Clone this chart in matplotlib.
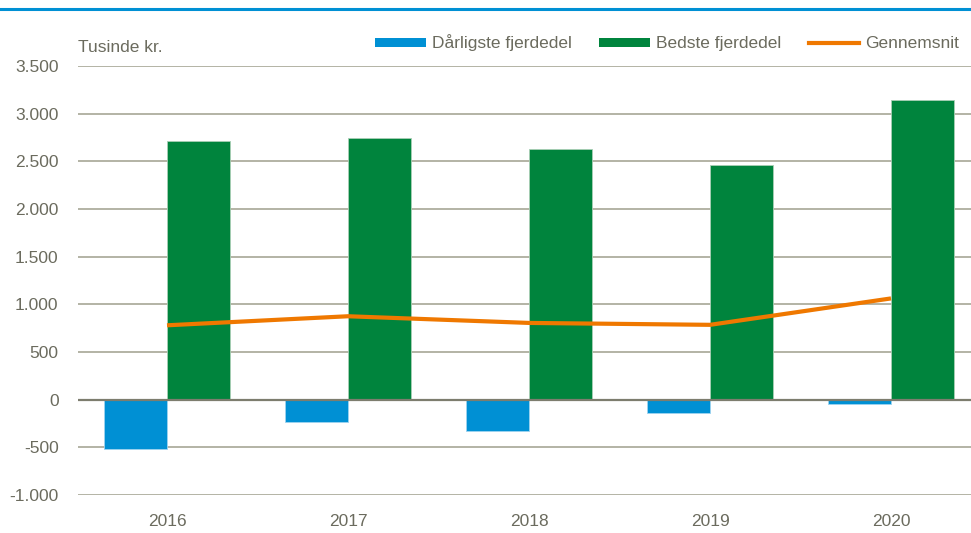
import matplotlib
matplotlib.use("Agg")
import matplotlib.pyplot as plt
from matplotlib.lines import Line2D
from matplotlib.patches import Patch
from matplotlib.ticker import FuncFormatter
import numpy as np

years = ["2016", "2017", "2018", "2019", "2020"]
worst_quarter = [-515, -235, -325, -140, -50]
best_quarter = [2715, 2745, 2630, 2465, 3140]
average = [780, 875, 805, 785, 1062]

blue = "#0090d4"
green = "#00843d"
orange = "#ef7800"
txt = "#6b6b5e"
grid = "#aeae9e"

plt.rcParams["font.family"] = ["Liberation Sans", "DejaVu Sans"]

fig = plt.figure(figsize=(9.71, 5.33), dpi=100)
ax = fig.add_axes([78 / 971, 1 - 495 / 533, (971 - 78) / 971, 429 / 533])

x = np.arange(len(years))
w = 0.35
ax.bar(x - w / 2, worst_quarter, w, color=blue, edgecolor="#9fd3ef", linewidth=0.6, zorder=3)
ax.bar(x + w / 2, best_quarter, w, color=green, edgecolor="#a9cfb5", linewidth=0.6, zorder=3)
ax.plot(x, average, color=orange, lw=3.0, zorder=4, solid_capstyle="butt")

ax.set_ylim(-1000, 3500)
ax.set_xlim(-89 / 181, 4 + 80 / 181)
ax.set_yticks(np.arange(-1000, 3501, 500))
ax.yaxis.set_major_formatter(FuncFormatter(lambda v, p: f"{v:,.0f}".replace(",", ".")))
ax.set_xticks(x)
ax.set_xticklabels(years)
ax.grid(axis="y", color=grid, lw=1.3, zorder=0)
ax.axhline(0, color="#7d7d6e", lw=1.6, zorder=3.5)
for s in ax.spines.values():
    s.set_visible(False)
ax.tick_params(length=0, colors=txt, labelsize=12.5)
ax.tick_params(axis="y", pad=14)
ax.tick_params(axis="x", pad=14)

fig.text(78 / 971, 1 - 47 / 533, "Tusinde kr.", color=txt, fontsize=12.5, va="center", ha="left")

handles = [
    Patch(facecolor=blue, edgecolor="none"),
    Patch(facecolor=green, edgecolor="none"),
    Line2D([0], [0], color=orange, lw=3.0),
]
labels = ["Dårligste fjerdedel", "Bedste fjerdedel", "Gennemsnit"]
leg = fig.legend(handles, labels, loc="center right", bbox_to_anchor=(959 / 971, 1 - 43 / 533),
                 ncol=3, frameon=False, fontsize=12.5, handlelength=2.9, handleheight=0.45,
                 handletextpad=0.35, columnspacing=1.6, borderaxespad=0, borderpad=0)
for t in leg.get_texts():
    t.set_color(txt)

fig.add_artist(Line2D([0, 1], [1 - 8.5 / 533, 1 - 8.5 / 533], color=blue, lw=2.2))

fig.savefig("out.png", dpi=100)
